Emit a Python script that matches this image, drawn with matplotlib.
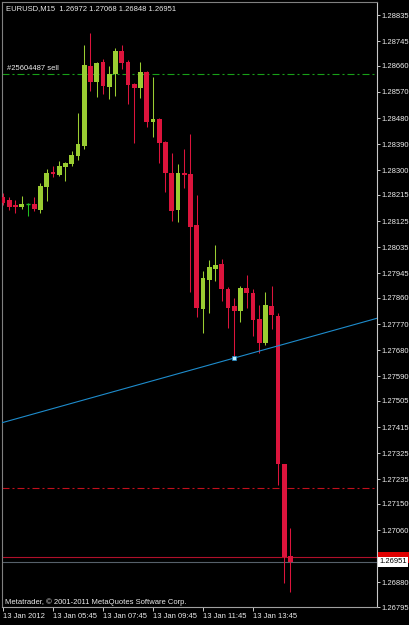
import matplotlib
matplotlib.use("Agg")
import matplotlib.pyplot as plt
from matplotlib.patches import Rectangle

## ## EURUSD M15 candles, bar 0 .. 46
opens = [1.28208, 1.28197, 1.28180, 1.28173, 1.28184, 1.28184, 1.28163, 1.28242, 1.28294, 1.28284,
         1.28311, 1.28322, 1.28349, 1.28384, 1.28659, 1.28604, 1.28673, 1.28587, 1.28632, 1.28711,
         1.28673, 1.28597, 1.28583, 1.28639, 1.28466, 1.28477, 1.28397, 1.28291, 1.28163, 1.28291,
         1.28287, 1.28111, 1.27822, 1.27922, 1.27960, 1.27977, 1.27891, 1.27832, 1.27815, 1.27894,
         1.27877, 1.27787, 1.27705, 1.27832, 1.27798, 1.27288, 1.26972]
highs = [1.28222, 1.28208, 1.28197, 1.28211, 1.28187, 1.28208, 1.28256, 1.28304, 1.28315, 1.28332,
         1.28328, 1.28366, 1.28497, 1.28732, 1.28773, 1.28673, 1.28683, 1.28659, 1.28721, 1.28732,
         1.28680, 1.28601, 1.28673, 1.28642, 1.28621, 1.28480, 1.28401, 1.28359, 1.28322, 1.28373,
         1.28425, 1.28215, 1.27953, 1.27991, 1.28042, 1.27994, 1.27898, 1.27860, 1.27901, 1.27939,
         1.27891, 1.27836, 1.27880, 1.27901, 1.27808, 1.27288, 1.27068]
lows = [1.28180, 1.28163, 1.28153, 1.28166, 1.28142, 1.28160, 1.28153, 1.28194, 1.28277, 1.28280,
        1.28263, 1.28315, 1.28335, 1.28373, 1.28573, 1.28552, 1.28563, 1.28546, 1.28556, 1.28649,
        1.28528, 1.28394, 1.28549, 1.28449, 1.28415, 1.28325, 1.28225, 1.28125, 1.28122, 1.28239,
        1.27880, 1.27794, 1.27739, 1.27808, 1.27918, 1.27849, 1.27756, 1.27653, 1.27777, 1.27825,
        1.27729, 1.27670, 1.27698, 1.27753, 1.27215, 1.26878, 1.26848]
closes = [1.28187, 1.28173, 1.28173, 1.28184, 1.28184, 1.28166, 1.28246, 1.28291, 1.28287, 1.28315,
          1.28325, 1.28353, 1.28391, 1.28663, 1.28604, 1.28670, 1.28590, 1.28632, 1.28711, 1.28670,
          1.28594, 1.28583, 1.28639, 1.28466, 1.28477, 1.28394, 1.28291, 1.28160, 1.28291, 1.28284,
          1.28104, 1.27825, 1.27929, 1.27967, 1.27974, 1.27891, 1.27825, 1.27815, 1.27894, 1.27877,
          1.27784, 1.27705, 1.27836, 1.27801, 1.27288, 1.26967, 1.26951]

## ## levels
order_price = 1.28632      # "#25604487 sell"
tp_price = 1.27205         # red dash-dot
ask_price = 1.26966
bid_price = 1.26951
trend_bars = [37, 60]
trend_prices = [1.27653, 1.27791]

## ## axis ticks
price_ticks = [1.28835, 1.28745, 1.28660, 1.28570, 1.28480, 1.28390, 1.28300, 1.28215, 1.28125,
               1.28035, 1.27945, 1.27860, 1.27770, 1.27680, 1.27590, 1.27505, 1.27415, 1.27325,
               1.27235, 1.27150, 1.27060, 1.26880, 1.26795]
time_ticks = [0, 8, 16, 24, 32, 40]
time_labels = ["13 Jan 2012", "13 Jan 05:45", "13 Jan 07:45", "13 Jan 09:45", "13 Jan 11:45", "13 Jan 13:45"]

bull = "#9acd32"
bear = "#dc143c"
fg = "#ececec"
fs = 5.5
plt.rcParams["font.family"] = ["Liberation Sans", "DejaVu Sans"]

fig = plt.figure(figsize=(4.1, 6.25), dpi=100, facecolor="black")
ax = fig.add_axes([2 / 410, 18 / 625, 375 / 410, 605 / 625], facecolor="black")

## ## candles
for i in range(len(opens)):
    o, h, l, c = opens[i], highs[i], lows[i], closes[i]
    col = bull if c > o else bear
    if c == o:
        col = "#20c020"
    ax.vlines(i, l, h, color=col, lw=0.75, zorder=3)
    if c == o:
        ax.hlines(o, i - 0.37, i + 0.37, color=col, lw=1.0, zorder=4)
    else:
        ax.bar(i, abs(c - o), bottom=min(o, c), width=0.75, color=col, lw=0, zorder=4)

## ## order / tp / ask / bid lines
dashdot = (0, (6.3, 2.7, 1.8, 2.7))
ax.axhline(order_price, color="#18a018", lw=0.8, ls=dashdot, zorder=2)
ax.axhline(tp_price, color="#c0101c", lw=0.8, ls=dashdot, zorder=2)
ax.axhline(ask_price, color="#b0102a", lw=0.8, zorder=2)
ax.axhline(bid_price, color="#56606a", lw=0.8, zorder=2)

## ## trend line
ax.axline((trend_bars[0], trend_prices[0]), (trend_bars[1], trend_prices[1]), color="#1e8ccc", lw=0.8, zorder=5)
ax.plot(trend_bars[0], trend_prices[0], marker="s", ms=2.8, mfc="#bfefff", mec="#1e8ccc", mew=0.5, zorder=6)

ax.set_xlim(-0.16, 59.84)
ax.set_ylim(1.26795, 1.28880)

## ## axes look
for side in ["left", "top"]:
    ax.spines[side].set_color("#808080")
ax.spines["bottom"].set_color("#a0a0a0")
ax.spines["right"].set_color("#c8c8c8")
for s in ax.spines.values():
    s.set_linewidth(0.8)

ax.yaxis.tick_right()
ax.set_yticks(price_ticks)
ax.set_yticklabels(["%.5f" % p for p in price_ticks])
ax.tick_params(axis="y", colors=fg, labelsize=fs, length=2.2, width=0.6, pad=1.2)
ax.set_xticks(time_ticks)
ax.set_xticklabels(time_labels)
for lab in ax.get_xticklabels():
    lab.set_ha("left")
ax.tick_params(axis="x", colors=fg, labelsize=fs, length=3, width=0.6, pad=1.5)

## ## price labels on the right axis (ask box mostly hidden behind bid box)
box_h = 0.00038
ax.add_patch(Rectangle((1.004, ask_price - box_h / 2), 0.085, box_h, transform=ax.get_yaxis_transform(),
                       fc="#e00000", ec="none", clip_on=False, zorder=7))
ax.text(1.006, bid_price, "1.26951", transform=ax.get_yaxis_transform(), fontsize=fs, color="black",
        va="center", ha="left", bbox=dict(boxstyle="square,pad=0.2", fc="white", ec="none"), clip_on=False, zorder=8)

## ## texts
ax.text(0.011, 0.990, "EURUSD,M15  1.26972 1.27068 1.26848 1.26951", transform=ax.transAxes,
        fontsize=fs, color=fg, va="center", ha="left")
ax.annotate("#25604487 sell", xy=(0.013, order_price), xycoords=ax.get_yaxis_transform(),
            xytext=(0, 1.2), textcoords="offset points", fontsize=fs, color=fg, va="bottom", ha="left")
ax.text(0.008, 0.0015, "Metatrader, \u00a9 2001-2011 MetaQuotes Software Corp.", transform=ax.transAxes,
        fontsize=fs, color=fg, va="bottom", ha="left")

plt.savefig("out.png", dpi=100, facecolor="black")
